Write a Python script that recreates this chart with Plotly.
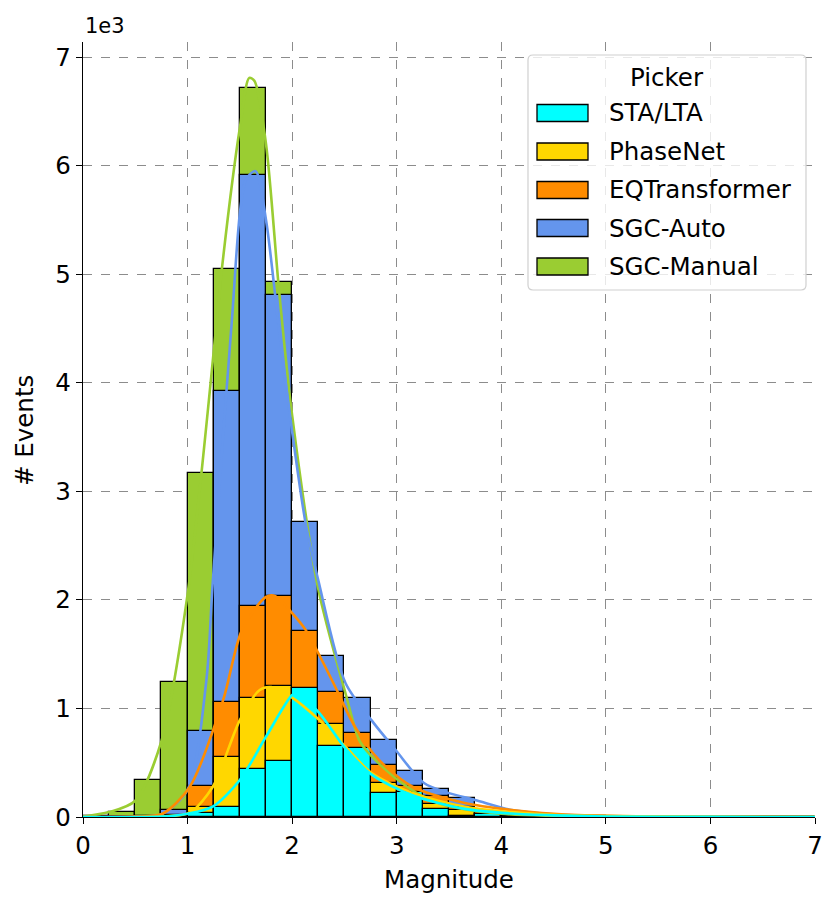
import plotly.graph_objects as go

# ---------------- data ----------------
bin_width = 0.25
bin_starts = [i * 0.25 for i in range(28)]  # 0.00 ... 6.75

pickers = ["STA/LTA", "PhaseNet", "EQTransformer", "SGC-Auto", "SGC-Manual"]
colors = ["#00FFFF", "#FFD700", "#FF8C00", "#6495ED", "#9ACD32"]

# histogram counts per bin
sta_lta = [0, 0, 0, 2, 40, 95, 439, 518, 1191, 657, 635, 221, 230, 74, 5, 28,
           5, 12, 3, 2, 1, 1, 0, 0, 0, 0, 0, 0]
phasenet = [0, 0, 0, 5, 90, 555, 1093, 1206, 1050, 856, 600, 316, 180, 120, 60, 30,
            15, 10, 5, 3, 2, 1, 1, 0, 0, 0, 0, 0]
eqtransformer = [0, 0, 3, 20, 288, 1056, 1946, 2038, 1713, 1154, 771, 479, 290, 190, 90, 50,
                 25, 15, 8, 5, 3, 2, 1, 1, 0, 0, 0, 0]
sgc_auto = [0, 0, 5, 60, 792, 3923, 5918, 4807, 2719, 1482, 1098, 709, 424, 258, 175, 35,
            8, 15, 5, 3, 2, 1, 1, 0, 0, 0, 0, 0]
sgc_manual = [8, 49, 341, 1243, 3170, 5049, 6719, 4926, 2400, 1200, 800, 350, 250, 100, 60, 25,
              15, 8, 5, 3, 2, 1, 1, 0, 0, 0, 0, 0]

# KDE curves (count scale)
sta_lta_kde_x = [0, 0.75, 1.0, 1.24, 1.5, 1.75, 2.0, 2.05, 2.26, 2.51, 2.76, 3.15, 3.65, 4.1, 4.5, 5.0, 6.0, 7.0]
sta_lta_kde_y = [0, 3, 30, 95, 341, 740, 1123, 1140, 958, 630, 390, 200, 75, 32, 15, 5, 1, 0]

phasenet_kde_x = [0, 0.75, 1.02, 1.24, 1.5, 1.69, 1.8, 2.0, 2.26, 2.51, 2.76, 3.15, 3.65, 4.1, 4.5, 5.0, 6.0, 7.0]
phasenet_kde_y = [0, 5, 40, 276, 893, 1170, 1197, 1100, 893, 647, 405, 221, 95, 45, 20, 8, 1, 0]

eqtransformer_kde_x = [0, 0.5, 0.76, 1.02, 1.34, 1.52, 1.75, 1.84, 2.0, 2.13, 2.38, 2.6, 2.83, 3.15, 3.65,
                       4.1, 4.5, 5.0, 6.0, 7.0]
eqtransformer_kde_y = [0, 3, 30, 276, 1077, 1722, 2028, 2035, 1878, 1722, 1262, 832, 525, 279, 129,
                       64, 30, 10, 2, 0]

sgc_auto_kde_x = [0, 0.5, 0.75, 1.0, 1.18, 1.24, 1.416, 1.56, 1.65, 1.75, 1.876, 2.0, 2.13, 2.25, 2.51,
                  2.76, 2.99, 3.26, 3.5, 3.75, 4.1, 4.5, 5.0, 6.0, 7.0]
sgc_auto_kde_y = [0, 3, 25, 250, 1260, 2150, 4480, 5875, 5950, 5500, 4480, 3550, 2700, 2180, 1234,
                  890, 617, 313, 220, 157, 64, 25, 8, 1, 0]

sgc_manual_kde_x = [0, 0.25, 0.5, 0.75, 1.0, 1.27, 1.33, 1.5, 1.59, 1.64, 1.75, 1.875, 2.0, 2.25, 2.51,
                    2.64, 2.73, 3.0, 3.26, 3.5, 4.0, 4.5, 5.0, 6.0, 7.0]
sgc_manual_kde_y = [5, 45, 150, 700, 2050, 4480, 5066, 6350, 6810, 6780, 6200, 4850, 3700, 2100, 1140,
                    710, 590, 350, 184, 100, 30, 10, 3, 1, 0]

series = [sta_lta, phasenet, eqtransformer, sgc_auto, sgc_manual]
kde_xs = [sta_lta_kde_x, phasenet_kde_x, eqtransformer_kde_x, sgc_auto_kde_x, sgc_manual_kde_x]
kde_ys = [sta_lta_kde_y, phasenet_kde_y, eqtransformer_kde_y, sgc_auto_kde_y, sgc_manual_kde_y]

x_ticks = [0, 1, 2, 3, 4, 5, 6, 7]
x_ticktext = ["0", "1", "2", "3", "4", "5", "6", "7"]
y_tickvals = [0, 1000, 2000, 3000, 4000, 5000, 6000, 7000]
y_ticktext = ["0", "1", "2", "3", "4", "5", "6", "7"]

centers = [s + bin_width / 2 for s in bin_starts]

FONT = "DejaVu Sans"
FS = 24.5

fig = go.Figure()

order = list(reversed(range(len(pickers))))  # back to front: SGC-Manual ... STA/LTA

for i in order:
    fig.add_trace(go.Bar(
        x=centers, y=series[i], width=bin_width, name=pickers[i],
        marker=dict(color=colors[i], line=dict(color="black", width=1.3)),
        showlegend=False, hoverinfo="x+y+name",
    ))

for i in order:
    fig.add_trace(go.Scatter(
        x=kde_xs[i], y=kde_ys[i], mode="lines", name=pickers[i],
        line=dict(color=colors[i], width=2.6, shape="spline", smoothing=0.8),
        showlegend=False, hoverinfo="skip", cliponaxis=True,
    ))

ML, MR, MT, MB = 83, 9, 42, 80
fig.update_layout(
    width=824, height=897,
    margin=dict(l=ML, r=MR, t=MT, b=MB, autoexpand=False),
    plot_bgcolor="white", paper_bgcolor="white",
    barmode="overlay", bargap=0,
    font=dict(family=FONT, size=FS, color="black"),
    showlegend=False,
)

axis_style = dict(showgrid=True, gridcolor="#8c8c8c", gridwidth=1, griddash="dash",
                  showline=True, linecolor="black", linewidth=1.3,
                  ticks="outside", ticklen=6, tickwidth=1.3, tickcolor="black",
                  zeroline=False, layer="above traces", ticklabeloverflow="allow",
                  automargin=False,
                  tickfont=dict(family=FONT, size=FS))

fig.update_xaxes(range=[0, 7], tickvals=x_ticks, ticktext=x_ticktext,
                 title=dict(text="Magnitude", font=dict(family=FONT, size=FS), standoff=12),
                 **axis_style)
fig.update_yaxes(range=[0, 7140], tickvals=y_tickvals, ticktext=y_ticktext,
                 **axis_style)

# ---------------- pixel helpers for annotations / legend ----------------
L = ML
B = 897 - MB
W = 824 - ML - MR
H = 897 - MT - MB


def px(xp):
    return (xp - L) / W


def py(yp):
    return (B - yp) / H


# y axis title
fig.add_annotation(text="# Events", xref="paper", yref="paper", x=px(24), y=py(430),
                   xanchor="center", yanchor="middle", textangle=-90, showarrow=False,
                   font=dict(family=FONT, size=FS))

# offset text
fig.add_annotation(text="1e3", xref="paper", yref="paper", x=0, y=1, xanchor="left",
                   yanchor="bottom", yshift=2, showarrow=False,
                   font=dict(family=FONT, size=21))

# ---------------- manual legend (matplotlib style) ----------------
bx0, bx1, by0, by1 = 528, 806, 55, 290
r = 5
path = (f"M {px(bx0 + r)},{py(by0)} L {px(bx1 - r)},{py(by0)} "
        f"Q {px(bx1)},{py(by0)} {px(bx1)},{py(by0 + r)} "
        f"L {px(bx1)},{py(by1 - r)} Q {px(bx1)},{py(by1)} {px(bx1 - r)},{py(by1)} "
        f"L {px(bx0 + r)},{py(by1)} Q {px(bx0)},{py(by1)} {px(bx0)},{py(by1 - r)} "
        f"L {px(bx0)},{py(by0 + r)} Q {px(bx0)},{py(by0)} {px(bx0 + r)},{py(by0)} Z")
fig.add_shape(type="path", path=path, xref="paper", yref="paper",
              fillcolor="rgba(255,255,255,0.8)", line=dict(color="#d0d0d0", width=1.2))

fig.add_annotation(text="Picker", xref="paper", yref="paper", x=px(667), y=py(77),
                   xanchor="center", yanchor="middle", showarrow=False,
                   font=dict(family=FONT, size=FS))

row_y = [113, 151.5, 190, 228, 266.5]
for name, col, yy in zip(pickers, colors, row_y):
    fig.add_shape(type="rect", xref="paper", yref="paper",
                  x0=px(537), x1=px(588), y0=py(yy - 8.5), y1=py(yy + 8.5),
                  fillcolor=col, line=dict(color="black", width=1.3))
    fig.add_annotation(text=name, xref="paper", yref="paper", x=px(607), y=py(yy),
                       xanchor="left", yanchor="middle", showarrow=False,
                       font=dict(family=FONT, size=FS))

fig.write_html("out.html")
